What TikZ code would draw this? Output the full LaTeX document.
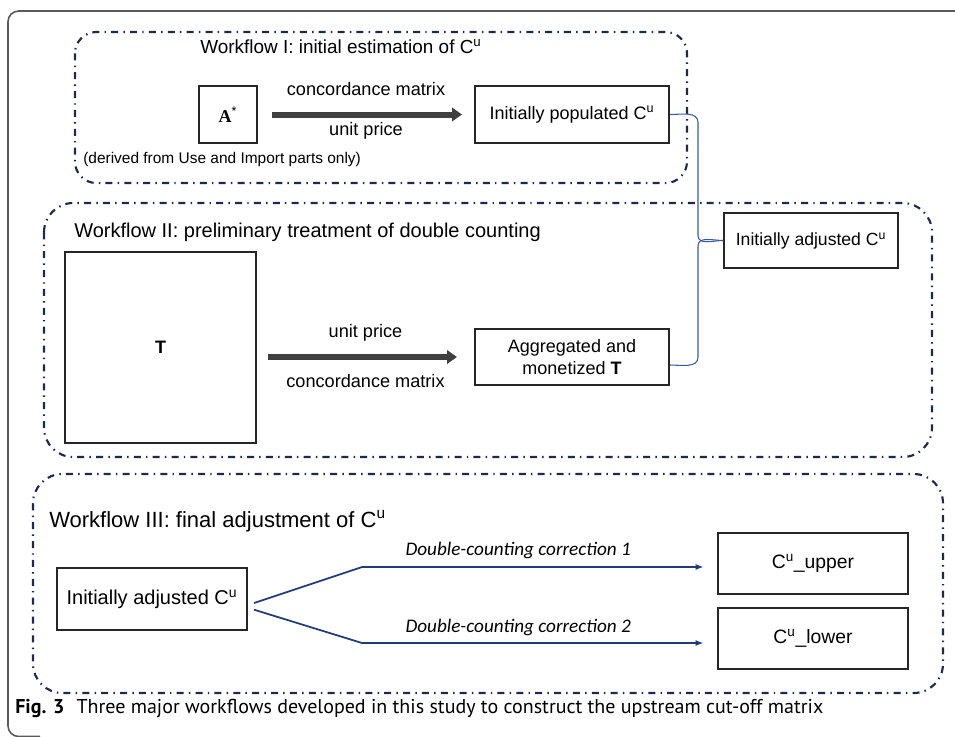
\documentclass[tikz,border=0pt]{standalone}
\usepackage{fontspec}
\setmainfont{Liberation Sans}
\newfontfamily\calfont{Carlito}
\newfontfamily\capfont{PT Sans}
\newfontfamily\serfont{Liberation Serif}
\usetikzlibrary{arrows.meta}
\definecolor{navy}{HTML}{1C2A4C}
\definecolor{linkblue}{HTML}{3A5C9E}
\definecolor{corrblue}{HTML}{1F3B78}
\definecolor{fatgray}{HTML}{404040}
\definecolor{framegray}{HTML}{5A5A5A}

\begin{document}
\begin{tikzpicture}[>=latex, x=0.75pt, y=-0.75pt,
    box/.style={draw=black!85, line width=1.5pt, inner sep=0pt, align=center, font=\fontsize{13.5}{16}\selectfont},
    flow/.style={draw=navy, line width=1.6pt, dash pattern=on 5.25pt off 3.9pt on 1.1pt off 3.9pt},
    title/.style={anchor=base west, inner sep=0pt},
    fat/.style={draw=fatgray, line width=4.5pt, -{Triangle[length=7.5pt,width=10pt]}},
    lbl/.style={font=\fontsize{13.6}{16}\selectfont},
    link/.style={draw=linkblue, line width=0.8pt},
    corr/.style={draw=corrblue, line width=1.3pt, -{Latex[length=6pt,width=4.5pt]}, shorten >=10pt},
    corrlbl/.style={font=\calfont\itshape\fontsize{14.4}{17}\selectfont}]
    %\draw[help lines] (0,0) grid (955,736);
    \useasboundingbox (0,0) rectangle (955,736);
    \draw[framegray, line width=1.2pt, rounded corners=8pt] (965,11) -- (8,11) -- (8,736.5) -- (40,736.5);
    % workflow frames
    \draw[flow, rounded corners=16pt] (75,32) rectangle (687,183);
    \draw[flow, rounded corners=22pt] (44,203) rectangle (932,457);
    \draw[flow, rounded corners=22pt] (33,474) rectangle (943,693);
    % workflow I
    \node[title, font=\fontsize{14.2}{17}\selectfont] (t1) at (200,53) {Workflow I: initial estimation of C\textsuperscript{u}};
    \node[box, minimum width=43.5pt, minimum height=42.75pt] (astar) at (228,114.5) {{\serfont\bfseries A}\textsuperscript{*}};
    \node[box, minimum width=145.5pt, minimum height=42.75pt] (pop) at (572,114.5) {Initially populated C\textsuperscript{u}};
    \node[title, font=\fontsize{11.6}{14}\selectfont] (note) at (83,163) {(derived from Use and Import parts only)};
    \draw[fat, shorten <=10.5pt, shorten >=9pt] (astar) -- (pop)
        node[lbl, pos=0.5, yshift=19pt] {concordance matrix}
        node[lbl, pos=0.5, yshift=-12pt] {unit price};
    % workflow II
    \node[title, font=\fontsize{15}{18}\selectfont] (t2) at (74,237) {Workflow II: preliminary treatment of double counting};
    \node[box, minimum width=143.25pt, minimum height=143.25pt] (T) at (160.5,347.5) {\textbf{T}};
    \node[box, minimum width=145.5pt, minimum height=42pt] (agg) at (572,357) {Aggregated and\\monetized \textbf{T}};
    \node[box, minimum width=130.5pt, minimum height=41.25pt, font=\fontsize{13.2}{16}\selectfont] (adj) at (811,240.5) {Initially adjusted C\textsuperscript{u}};
    \draw[fat, shorten <=8pt, shorten >=12.75pt] (T.east |- agg.west) -- (agg.west)
        node[lbl, pos=0.5, yshift=18pt] {unit price}
        node[lbl, pos=0.5, yshift=-18pt] {concordance matrix};
    \draw[link] (pop.east) to[out=0,in=90] ++(28,8) -- ++(0,113) to[out=-90,in=180] (adj.west);
    \draw[link] ([yshift=-6pt]agg.east) to[out=0,in=-90] ++(28,-8) -- ++(0,-111) to[out=90,in=180] (adj.west);
    % workflow III
    \node[title, font=\fontsize{16.5}{20}\selectfont] (t3) at (49,527) {Workflow III: final adjustment of C\textsuperscript{u}};
    \node[box, minimum width=142.5pt, minimum height=46.5pt, font=\fontsize{15}{18}\selectfont] (adj3) at (152,599) {Initially adjusted C\textsuperscript{u}};
    \node[box, minimum width=142.5pt, minimum height=45.75pt, font=\fontsize{14.5}{17}\selectfont] (upper) at (813,563.5) {C\textsuperscript{u}\_upper};
    \node[box, minimum width=142.5pt, minimum height=45.75pt, font=\fontsize{14.5}{17}\selectfont] (lower) at (813,638.5) {C\textsuperscript{u}\_lower};
    \coordinate (k1) at (362,567);
    \coordinate (k2) at (362,643);
    \draw[corr] ([xshift=4.5pt,yshift=-3pt]adj3.east) -- (k1) -- (k1 -| upper.west)
        node[corrlbl, pos=0.44, yshift=12.75pt] {Double-counting correction 1};
    \draw[corr] ([xshift=4.5pt,yshift=-8pt]adj3.east) -- (k2) -- (k2 -| lower.west)
        node[corrlbl, pos=0.44, yshift=12pt] {Double-counting correction 2};
    % caption
    \node[title, font=\capfont\fontsize{15}{18}\selectfont] (cap) at (15,713) {\textbf{Fig. 3}\hspace{0.6em}Three major workflows developed in this study to construct the upstream cut-off matrix};
\end{tikzpicture}
\end{document}
